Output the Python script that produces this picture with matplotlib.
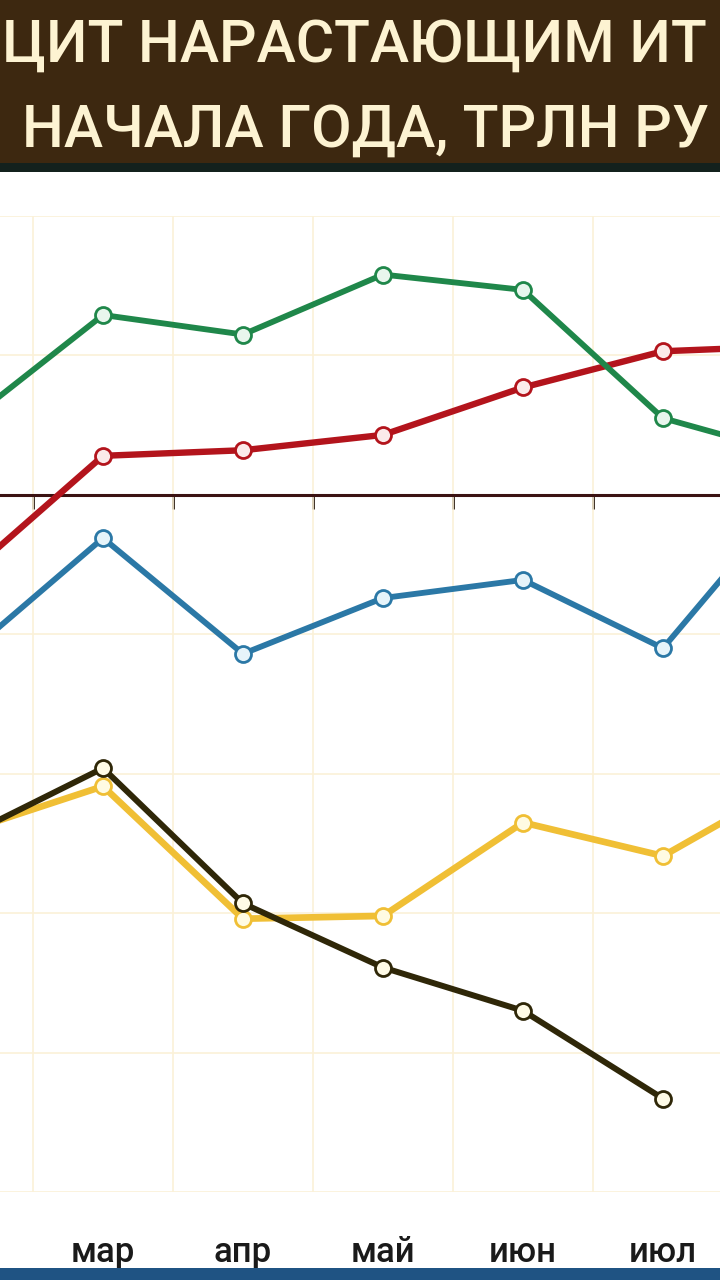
import numpy as np
import matplotlib
matplotlib.use("Agg")
import matplotlib.pyplot as plt
from matplotlib.patches import Rectangle

# Данные (трлн руб.)
months = ["фев", "мар", "апр", "май", "июн", "июл", "авг"]
green = [0.50, 1.29, 1.15, 1.58, 1.47, 0.55, 0.27]
red = [-0.60, 0.28, 0.32, 0.43, 0.77, 1.03, 1.07]
blue = [-1.17, -0.31, -1.14, -0.74, -0.61, -1.10, 0.09]
yellow = [-2.42, -2.09, -3.04, -3.02, -2.35, -2.59, -2.02]
black = [-2.46, -1.96, -2.93, -3.39, -3.70, -4.33, np.nan]

title_lines = ["ЦИТ НАРАСТАЮЩИМ ИТ", "НАЧАЛА ГОДА, ТРЛН РУ"]

W, H = 720, 1280
fig = plt.figure(figsize=(W / 100, H / 100), dpi=100)
fig.patch.set_facecolor("white")

# область графика
ax = fig.add_axes([0, (H - 1192) / H, 1, (1192 - 216) / H])
x = np.arange(len(months))

series = [
    (yellow, "#f0bf35", "#fffbe2", 4.8, 3),
    (black, "#2f2708", "#fffbe6", 4.3, 4),
    (blue, "#2b78a6", "#e6f4fa", 4.2, 5),
    (red, "#b3141c", "#fbeaea", 4.6, 6),
    (green, "#1f874a", "#e8f6ed", 4.2, 7),
]
for vals, col, face, lw, z in series:
    ax.plot(x, vals, color=col, lw=lw, marker="o", ms=11.5, mfc=face, mec=col, mew=2,
            zorder=z, solid_joinstyle="round")

grid_col = "#fbf1d8"
ax.set_xticks(x)
ax.set_xticklabels(months, family=["Roboto", "DejaVu Sans"], fontsize=25, weight="medium",
                   color="#1a1a1a")
ax.set_xticks(x[:-1] + 0.5, minor=True)
ax.set_yticks(np.arange(-5, 3))
ax.tick_params(axis="x", which="both", length=0, pad=32)
ax.tick_params(axis="y", length=0, labelleft=False)
ax.grid(which="minor", axis="x", color=grid_col, lw=1.2)
ax.grid(which="major", axis="y", color=grid_col, lw=1.2)
for s in ax.spines.values():
    s.set_visible(False)

# пределы после тиков, чтобы set_xticks их не расширял
ax.set_xlim(1 - 103 / 140, 1 + 617 / 140)
ax.set_ylim(-5, 2)

# нулевая линия с засечками
ax.axhline(0, color="#3b1212", lw=2.2, zorder=2)
loc = (0 - ax.get_ylim()[0]) / (ax.get_ylim()[1] - ax.get_ylim()[0])
sec = ax.secondary_xaxis(loc)
sec.xaxis.set_ticks_position("bottom")
sec.set_xticks(x[:-1] + 0.5)
sec.set_xticklabels([])
sec.tick_params(which="major", direction="out", length=10, width=2, color="#2a1c10")
for s in sec.spines.values():
    s.set_visible(False)

# шапка с заголовком
fig.patches.append(Rectangle((0, 1 - 163 / H), 1, 163 / H, transform=fig.transFigure,
                             facecolor="#3d2810", edgecolor="none", zorder=0))
fig.patches.append(Rectangle((0, 1 - 172 / H), 1, 9 / H, transform=fig.transFigure,
                             facecolor="#13211d", edgecolor="none", zorder=0))
# синяя полоса внизу
fig.patches.append(Rectangle((0, 0), 1, 12 / H, transform=fig.transFigure,
                             facecolor="#1f5383", edgecolor="none", zorder=0))

tfont = ["Roboto", "DejaVu Sans"]
t1 = fig.text(2 / W, 1 - 62 / H, title_lines[0], family=tfont, fontsize=42, weight="medium",
              color="#fdf3d2", ha="left", va="baseline")
t2 = fig.text(22 / W, 1 - 147 / H, title_lines[1], family=tfont, fontsize=42, weight="medium",
              color="#fdf3d2", ha="left", va="baseline")
# подгонка размера по ширине первой строки
r = fig.canvas.get_renderer()
w = t1.get_window_extent(r).width
fs = 42 * 706 / w
t1.set_fontsize(fs)
t2.set_fontsize(fs)

fig.savefig("out.png", dpi=100)
